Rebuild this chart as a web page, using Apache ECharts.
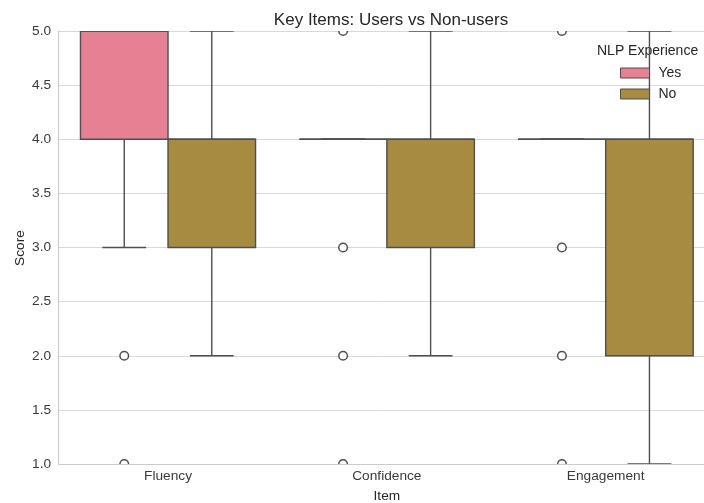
<!DOCTYPE html>
<html>
<head>
<meta charset="utf-8">
<script src="https://cdn.jsdelivr.net/npm/echarts@6/dist/echarts.min.js"></script>
<style>
  html, body { margin: 0; padding: 0; background: #fff; }
  #chart { width: 704px; height: 503px; }
</style>
</head>
<body>
<div id="chart"></div>
<script>
// Items on the x axis
const categories = ['Fluency', 'Confidence', 'Engagement'];
// Hue groups (NLP experience)
const groups = ['Yes', 'No'];
// Box statistics per item: [lower whisker, Q1, median, Q3, upper whisker]
const yesStats = [
  [3, 4, 5, 5, 5],
  [4, 4, 4, 4, 4],
  [4, 4, 4, 4, 4]
];
const noStats = [
  [2, 3, 4, 4, 5],
  [2, 3, 4, 4, 5],
  [1, 2, 4, 4, 5]
];
// Outlying responses per item
const yesOutliers = [
  [2, 1],
  [5, 3, 2, 1],
  [5, 3, 2, 1]
];
const noOutliers = [[], [], []];
// Y tick values
const yTicks = [1.0, 1.5, 2.0, 2.5, 3.0, 3.5, 4.0, 4.5, 5.0];

const groupColors = ['#e68093', '#a68b40'];
const edgeColor = '#4f4f4f';
const fontFamily = '"Liberation Sans", Arial, sans-serif';

const chart = echarts.init(document.getElementById('chart'), null, { renderer: 'canvas' });

function boxData(stats) {
  return stats.map((s, i) => [i].concat(s));
}
function outlierData(list, g) {
  const out = [];
  list.forEach((vals, i) => vals.forEach(v => out.push([i, g, v])));
  return out;
}

// Offset of each hue box inside the category band (fractions of the band)
const boxFrac = 0.4;
function groupOffset(g) { return (g - 0.5) * boxFrac; }

function makeBoxSeries(name, g, stats) {
  return {
    name: name,
    type: 'custom',
    clip: true,
    itemStyle: { color: groupColors[g], borderColor: edgeColor },
    data: boxData(stats),
    encode: { x: 0, y: [1, 2, 3, 4, 5] },
    z: 2,
    renderItem: function (params, api) {
      const cat = api.value(0);
      const band = api.size([1, 0])[0];
      const cx = api.coord([cat, 0])[0] + groupOffset(g) * band;
      const w = boxFrac * band;
      const capW = w / 2;
      const yLow = api.coord([cat, api.value(1)])[1];
      const yQ1 = api.coord([cat, api.value(2)])[1];
      const yMed = api.coord([cat, api.value(3)])[1];
      const yQ3 = api.coord([cat, api.value(4)])[1];
      const yHigh = api.coord([cat, api.value(5)])[1];
      const lineStyle = { stroke: edgeColor, lineWidth: 1.4, fill: null };
      return {
        type: 'group',
        children: [
          { type: 'line', shape: { x1: cx, y1: yQ1, x2: cx, y2: yLow }, style: lineStyle },
          { type: 'line', shape: { x1: cx, y1: yQ3, x2: cx, y2: yHigh }, style: lineStyle },
          { type: 'line', shape: { x1: cx - capW / 2, y1: yLow, x2: cx + capW / 2, y2: yLow }, style: lineStyle },
          { type: 'line', shape: { x1: cx - capW / 2, y1: yHigh, x2: cx + capW / 2, y2: yHigh }, style: lineStyle },
          {
            type: 'rect',
            shape: { x: cx - w / 2, y: yQ3, width: w, height: Math.max(yQ1 - yQ3, 0) },
            style: { fill: groupColors[g], stroke: edgeColor, lineWidth: 1.4 }
          },
          { type: 'line', shape: { x1: cx - w / 2, y1: yMed, x2: cx + w / 2, y2: yMed }, style: lineStyle }
        ]
      };
    }
  };
}

function makeOutlierSeries(name, data) {
  return {
    name: name,
    type: 'custom',
    clip: true,
    data: data,
    encode: { x: 0, y: 2 },
    z: 3,
    renderItem: function (params, api) {
      const cat = api.value(0);
      const g = api.value(1);
      const band = api.size([1, 0])[0];
      const cx = api.coord([cat, 0])[0] + groupOffset(g) * band;
      const cy = api.coord([cat, api.value(2)])[1];
      return {
        type: 'circle',
        shape: { cx: cx, cy: cy, r: 4.3 },
        style: { fill: '#ffffff', stroke: edgeColor, lineWidth: 1.5 }
      };
    }
  };
}

const option = {
  backgroundColor: '#ffffff',
  animation: false,
  textStyle: { fontFamily: fontFamily },
  title: {
    text: 'Key Items: Users vs Non-users',
    left: 386,
    top: 7,
    textAlign: 'center',
    textStyle: { fontSize: 17, fontWeight: 'normal', color: '#262626', fontFamily: fontFamily }
  },
  grid: { left: 58.6, top: 31, width: 656.5, height: 433, outerBoundsMode: 'none', containLabel: false },
  legend: {
    orient: 'vertical',
    left: 615,
    top: 60,
    itemWidth: 29,
    itemHeight: 10,
    itemGap: 5,
    icon: 'rect',
    textStyle: { fontSize: 14, color: '#262626', lineHeight: 16, padding: [0, 0, 0, 4], fontFamily: fontFamily },
    data: [
      { name: 'Yes', itemStyle: { color: groupColors[0], borderColor: edgeColor, borderWidth: 1 } },
      { name: 'No', itemStyle: { color: groupColors[1], borderColor: edgeColor, borderWidth: 1 } }
    ]
  },
  graphic: [
    {
      type: 'text',
      left: 597,
      top: 44,
      style: { text: 'NLP Experience', fontSize: 14, fill: '#262626', fontFamily: fontFamily }
    },
    {
      // y-axis title
      type: 'text',
      x: 20,
      y: 248,
      rotation: Math.PI / 2,
      style: {
        text: 'Score', fontSize: 13.7, fill: '#262626', fontFamily: fontFamily,
        align: 'center', verticalAlign: 'middle'
      }
    }
  ],
  xAxis: {
    type: 'category',
    data: categories,
    boundaryGap: true,
    name: 'Item',
    nameLocation: 'middle',
    nameGap: 25,
    nameTextStyle: { fontSize: 13.7, color: '#262626', fontFamily: fontFamily },
    axisLine: { show: true, lineStyle: { color: '#cccccc', width: 1.2 } },
    axisTick: { show: false },
    axisLabel: { fontSize: 13.7, color: '#3a3a3a', margin: 5, fontFamily: fontFamily },
    splitLine: { show: false }
  },
  yAxis: {
    type: 'value',
    min: yTicks[0],
    max: yTicks[yTicks.length - 1],
    interval: yTicks[1] - yTicks[0],
    axisLine: { show: true, lineStyle: { color: '#cccccc', width: 1.2 } },
    axisTick: { show: false },
    axisLabel: {
      fontSize: 13.7,
      color: '#3a3a3a',
      margin: 7.5,
      fontFamily: fontFamily,
      formatter: v => v.toFixed(1)
    },
    splitLine: { show: true, lineStyle: { color: '#d9d9d9', width: 1 } }
  },
  series: [
    makeBoxSeries(groups[0], 0, yesStats),
    makeBoxSeries(groups[1], 1, noStats),
    makeOutlierSeries('outliers-yes', outlierData(yesOutliers, 0)),
    makeOutlierSeries('outliers-no', outlierData(noOutliers, 1))
  ]
};

chart.setOption(option);
</script>
</body>
</html>
